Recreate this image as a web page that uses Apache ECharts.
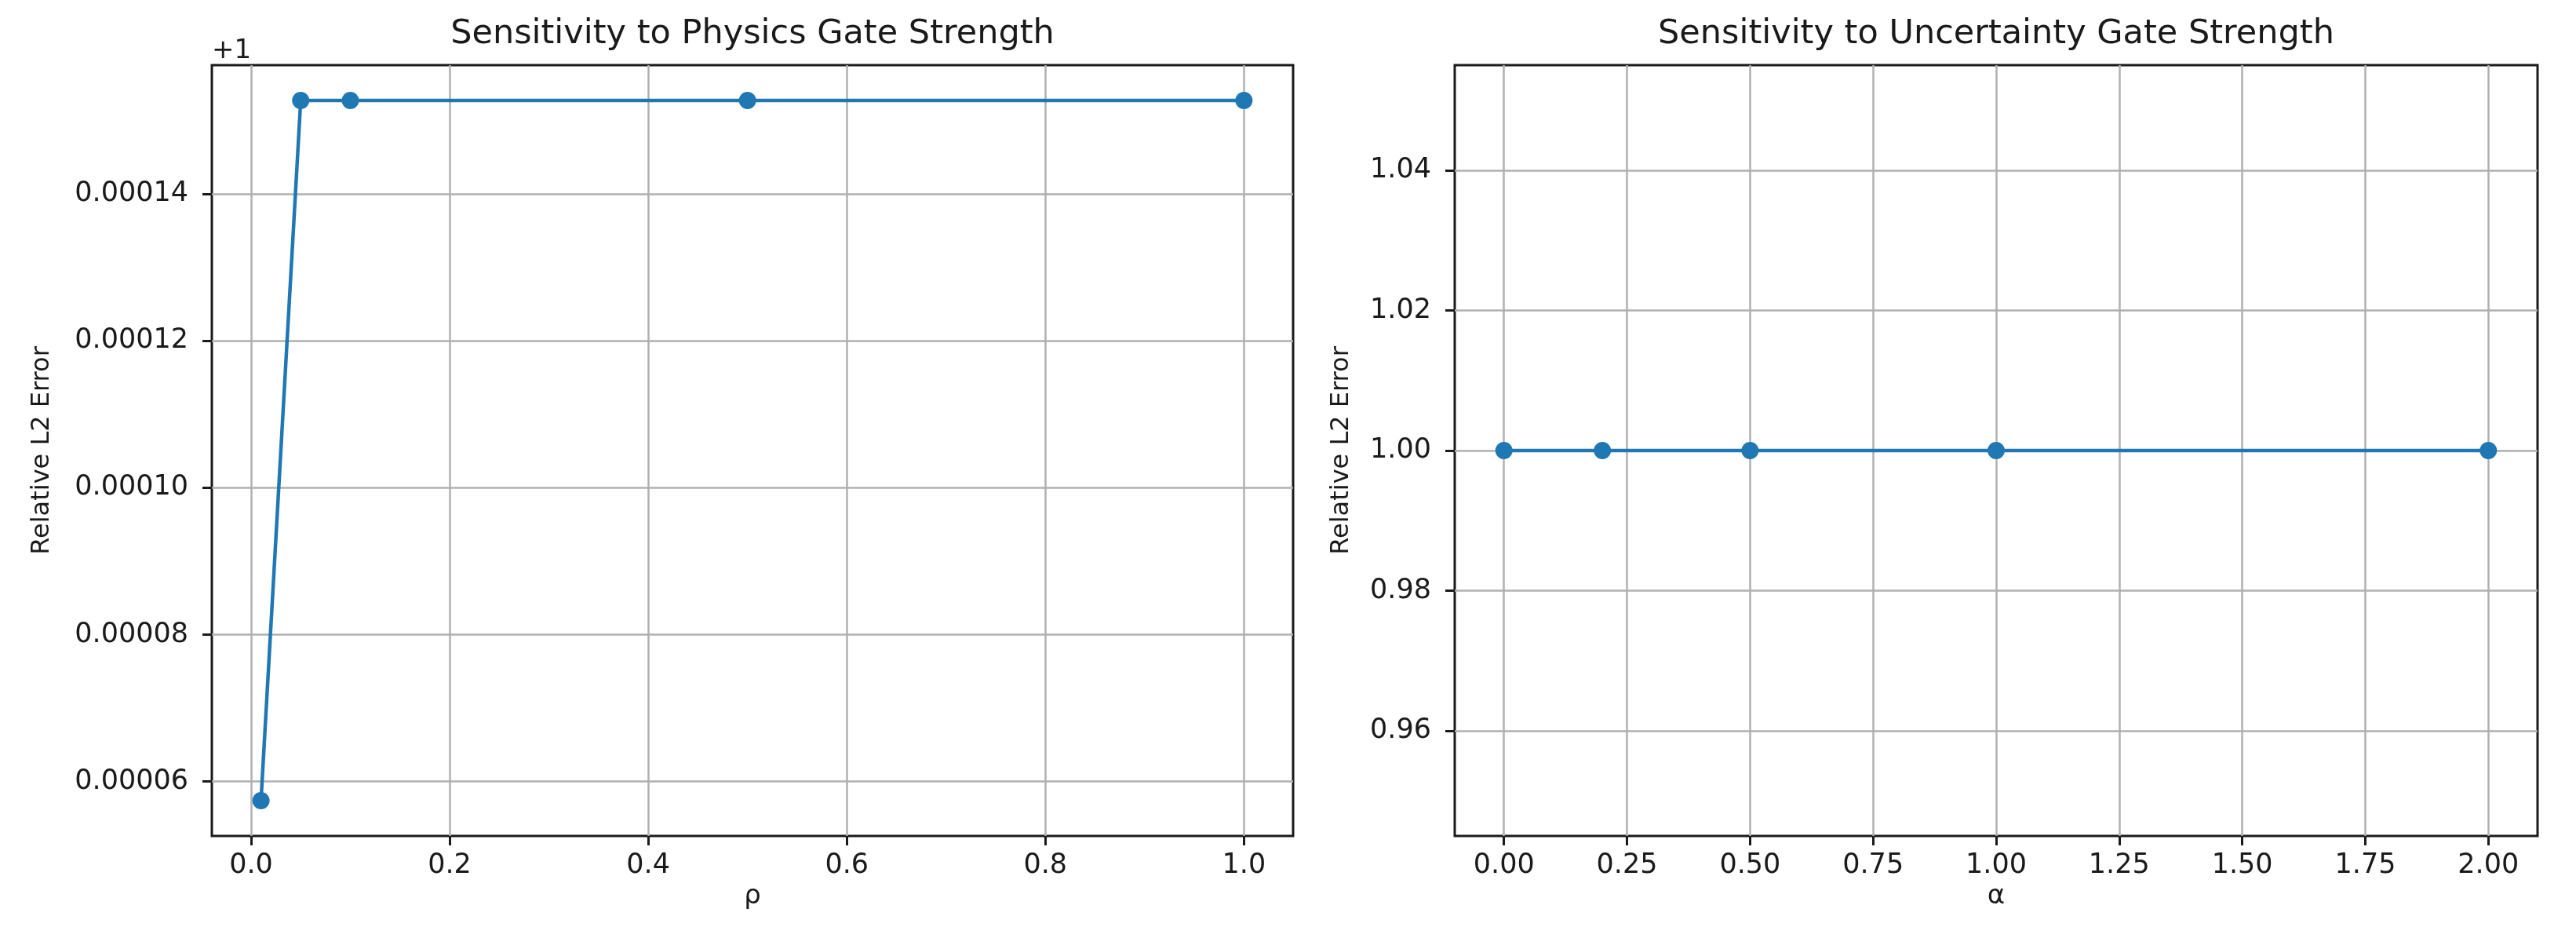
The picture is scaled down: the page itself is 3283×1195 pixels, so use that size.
<!DOCTYPE html>
<html>
<head>
<meta charset="utf-8">
<title>Gate strength sensitivity</title>
<script src="https://cdn.jsdelivr.net/npm/echarts@6/dist/echarts.min.js"></script>
<style>
  html, body { margin: 0; padding: 0; background: #fff; }
  #chart { width: 3283px; height: 1195px; }
</style>
</head>
<body>
<div id="chart"></div>
<script>
// left panel: physics gate strength rho
const rhoValues = [0.01, 0.05, 0.1, 0.5, 1.0]
const physErr = [1.0000574, 1.0001527, 1.0001527, 1.0001527, 1.0001527]
const physOffset = 1 // matplotlib shows "+1" above the axis
const physXTicks = [0, 0.2, 0.4, 0.6, 0.8, 1.0]
const physYTicks = [0.00006, 0.00008, 0.0001, 0.00012, 0.00014]

// right panel: uncertainty gate strength alpha
const alphaValues = [0, 0.2, 0.5, 1.0, 2.0]
const uncErr = [1.0, 1.0, 1.0, 1.0, 1.0]
const uncXTicks = [0, 0.25, 0.5, 0.75, 1.0, 1.25, 1.5, 1.75, 2.0]
const uncYTicks = [0.96, 0.98, 1.0, 1.02, 1.04]

const FONT = 'DejaVu Sans'
const BLUE = '#1f77b4'
const INK = '#1a1a1a'

function xAxisFor(gridIndex, name, min, max, ticks, digits) {
  return {
    type: 'value',
    gridIndex: gridIndex,
    min: min,
    max: max,
    name: name,
    nameLocation: 'middle',
    nameGap: 60,
    nameTextStyle: { fontFamily: FONT, fontSize: 34, color: INK },
    axisLine: { show: false, onZero: false },
    axisTick: { show: true, length: 12, customValues: ticks, lineStyle: { color: INK, width: 3 } },
    axisLabel: {
      customValues: ticks,
      margin: 20,
      fontFamily: FONT,
      fontSize: 35,
      color: INK,
      formatter: (v) => v.toFixed(digits)
    },
    splitLine: { show: true, lineStyle: { color: '#b0b0b0', width: 2.5 } }
  }
}

function yAxisFor(gridIndex, min, max, ticks, nameGap, fmt) {
  return {
    type: 'value',
    gridIndex: gridIndex,
    min: min,
    max: max,
    name: 'Relative L2 Error',
    nameLocation: 'middle',
    nameRotate: 90,
    nameGap: nameGap,
    nameTextStyle: { fontFamily: FONT, fontSize: 32, color: INK },
    axisLine: { show: false, onZero: false },
    axisTick: { show: true, length: 12, customValues: ticks, lineStyle: { color: INK, width: 3 } },
    axisLabel: {
      customValues: ticks,
      margin: 30,
      fontFamily: FONT,
      fontSize: 35,
      color: INK,
      formatter: fmt
    },
    splitLine: { show: true, lineStyle: { color: '#b0b0b0', width: 2.5 } }
  }
}

function lineSeries(xIndex, yIndex, xs, ys) {
  return {
    type: 'line',
    xAxisIndex: xIndex,
    yAxisIndex: yIndex,
    data: xs.map((x, i) => [x, ys[i]]),
    symbol: 'circle',
    symbolSize: 22,
    showSymbol: true,
    itemStyle: { color: BLUE },
    lineStyle: { color: BLUE, width: 4.5 },
    z: 5
  }
}

const chart = echarts.init(document.getElementById('chart'), null, { renderer: 'canvas' })

const option = {
  animation: false,
  backgroundColor: '#fff',
  title: [
    {
      text: 'Sensitivity to Physics Gate Strength',
      left: 959,
      top: 22,
      padding: 0,
      textAlign: 'center',
      textStyle: { fontFamily: FONT, fontSize: 43, fontWeight: 'normal', color: INK }
    },
    {
      text: 'Sensitivity to Uncertainty Gate Strength',
      left: 2544,
      top: 22,
      padding: 0,
      textAlign: 'center',
      textStyle: { fontFamily: FONT, fontSize: 43, fontWeight: 'normal', color: INK }
    }
  ],
  grid: [
    { left: 270, right: 1635, top: 83, bottom: 130, show: true, borderColor: INK, borderWidth: 3, backgroundColor: 'transparent' },
    { left: 1854, right: 49, top: 83, bottom: 130, show: true, borderColor: INK, borderWidth: 3, backgroundColor: 'transparent' }
  ],
  xAxis: [
    xAxisFor(0, 'ρ', -0.0395, 1.0495, physXTicks, 1),
    xAxisFor(1, 'α', -0.1, 2.1, uncXTicks, 2)
  ],
  yAxis: [
    yAxisFor(0, 0.0000526, 0.0001575, physYTicks, 200, (v) => v.toFixed(5)),
    yAxisFor(1, 0.945, 1.055, uncYTicks, 128, (v) => v.toFixed(2))
  ],
  graphic: [
    {
      type: 'text',
      left: 270,
      top: 48,
      style: { text: '+' + physOffset, fontFamily: FONT, fontSize: 34, fill: INK }
    }
  ],
  series: [
    lineSeries(0, 0, rhoValues, physErr.map((v) => v - physOffset)),
    lineSeries(1, 1, alphaValues, uncErr)
  ]
}

chart.setOption(option)
</script>
</body>
</html>
